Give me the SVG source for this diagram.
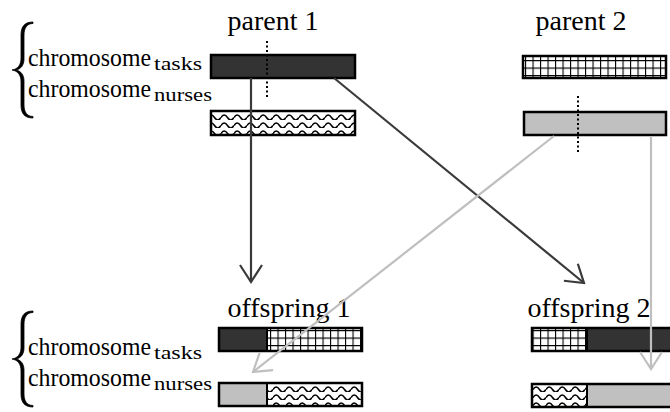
<svg xmlns="http://www.w3.org/2000/svg" width="670" height="412" viewBox="0 0 670 412">
<style>
.lbl{font-family:"Liberation Serif","Times New Roman",serif;font-size:28px;fill:#000;text-anchor:middle}
.chr{font-family:"Liberation Serif","Times New Roman",serif;font-size:25px;fill:#000}
.sub{font-family:"Liberation Serif","Times New Roman",serif;font-size:18px;fill:#000}
.frame{fill:none;stroke:#000;stroke-width:2.5}
.div{stroke:#000;stroke-width:2}
.dark{fill:#333}
.gray{fill:#c0c0c0}
.brace{fill:#000;stroke:#000;stroke-width:0.8;stroke-linejoin:round}
.dot{stroke:#000;stroke-width:2;stroke-dasharray:2 2.5}
.cd{fill:none;stroke:#3a3a3a;stroke-width:2.2}
.cg{fill:none;stroke:#bfbfbf;stroke-width:2.2}
</style>
<defs>
<pattern id="grid" width="7.5" height="7.5" patternUnits="userSpaceOnUse">
<rect width="7.5" height="7.5" fill="#fff"/>
<path d="M0 0H7.5M0 0V7.5" stroke="#000" stroke-width="2.2"/>
</pattern>
<pattern id="wave" width="13" height="8" patternUnits="userSpaceOnUse">
<rect width="13" height="8" fill="#fff"/>
<path d="M0 5.5Q3.25 0.5 6.5 5.5T13 5.5" fill="none" stroke="#000" stroke-width="1.5"/>
</pattern>
<marker id="ad" markerUnits="userSpaceOnUse" viewBox="-22 -14 24 28" markerWidth="24" markerHeight="28" refX="0" refY="0" orient="auto">
<path d="M-17,-11L0,0L-17,11" fill="none" stroke="#3a3a3a" stroke-width="2.2"/>
</marker>
<marker id="ag" markerUnits="userSpaceOnUse" viewBox="-22 -14 24 28" markerWidth="24" markerHeight="28" refX="0" refY="0" orient="auto">
<path d="M-17,-11L0,0L-17,11" fill="none" stroke="#bfbfbf" stroke-width="2.2"/>
</marker>
<path id="brace" class="brace" d="M33,22C25,22 21,26 21,35L21,58C21,65 18,69 12,70C18,71 21,75 21,82L21,105C21,114 25,118 33,118L33,116.5C27,116.5 24,112 24,105L24,81C24,75 21,71 16,70C21,69 24,65 24,59L24,35C24,28 27,23.5 33,23.5Z"/>
</defs>

<g id="legend-top">
<use href="#brace"/>
<text class="chr" x="28" y="66" textLength="123" lengthAdjust="spacingAndGlyphs">chromosome</text>
<text class="sub" x="154" y="70" textLength="48" lengthAdjust="spacingAndGlyphs">tasks</text>
<text class="chr" x="28" y="97" textLength="123" lengthAdjust="spacingAndGlyphs">chromosome</text>
<text class="sub" x="154" y="101" textLength="58" lengthAdjust="spacingAndGlyphs">nurses</text>
</g>

<g id="legend-bottom">
<use href="#brace" y="289"/>
<text class="chr" x="28" y="355" textLength="123" lengthAdjust="spacingAndGlyphs">chromosome</text>
<text class="sub" x="154" y="359" textLength="48" lengthAdjust="spacingAndGlyphs">tasks</text>
<text class="chr" x="28" y="386" textLength="123" lengthAdjust="spacingAndGlyphs">chromosome</text>
<text class="sub" x="154" y="390" textLength="58" lengthAdjust="spacingAndGlyphs">nurses</text>
</g>

<g id="parent1">
<text class="lbl" x="273" y="30">parent 1</text>
<rect class="dark" x="211" y="55" width="144" height="23"/>
<rect class="frame" x="211" y="55" width="144" height="23"/>
<rect x="211" y="111" width="144" height="24" fill="url(#wave)"/>
<rect class="frame" x="211" y="111" width="144" height="24"/>
<line class="dot" x1="267" y1="41" x2="267" y2="97"/>
</g>

<g id="parent2">
<text class="lbl" x="581" y="30">parent 2</text>
<rect x="523" y="56" width="143" height="22" fill="url(#grid)"/>
<rect class="frame" x="523" y="56" width="143" height="22"/>
<rect class="gray" x="524" y="112" width="142" height="23"/>
<rect class="frame" x="524" y="112" width="142" height="23"/>
<line class="dot" x1="578" y1="96" x2="578" y2="152"/>
</g>

<g id="offspring1">
<text class="lbl" x="289" y="317">offspring 1</text>
<rect class="dark" x="219" y="328" width="48" height="23"/>
<rect x="267" y="328" width="95" height="23" fill="url(#grid)"/>
<line class="div" x1="267" y1="328" x2="267" y2="351"/>
<rect class="frame" x="219" y="328" width="143" height="23"/>
<rect class="gray" x="219" y="383" width="48" height="23"/>
<rect x="267" y="383" width="95" height="23" fill="url(#wave)"/>
<line class="div" x1="267" y1="383" x2="267" y2="406"/>
<rect class="frame" x="219" y="383" width="143" height="23"/>
</g>

<g id="offspring2">
<text class="lbl" x="589" y="317">offspring 2</text>
<rect x="532" y="328" width="55" height="23" fill="url(#grid)"/>
<rect class="dark" x="587" y="328" width="89" height="23"/>
<line class="div" x1="587" y1="328" x2="587" y2="351"/>
<rect class="frame" x="532" y="328" width="144" height="23"/>
<rect x="532" y="384" width="55" height="23" fill="url(#wave)"/>
<rect class="gray" x="587" y="384" width="89" height="23"/>
<line class="div" x1="587" y1="384" x2="587" y2="407"/>
<rect class="frame" x="532" y="384" width="144" height="23"/>
</g>

<g id="connectors">
<line class="cd" x1="251" y1="78" x2="251" y2="282" marker-end="url(#ad)"/>
<line class="cd" x1="334" y1="78" x2="584" y2="283" marker-end="url(#ad)"/>
<line class="cg" x1="554" y1="136" x2="253" y2="372" marker-end="url(#ag)"/>
<line class="cg" x1="651" y1="136" x2="651" y2="369" marker-end="url(#ag)"/>
</g>
</svg>
